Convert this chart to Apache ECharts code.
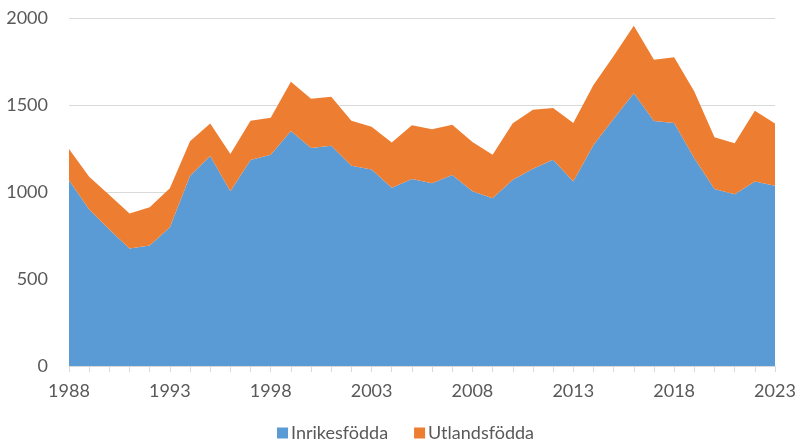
<!DOCTYPE html>
<html>
<head>
<meta charset="utf-8">
<script src="https://cdn.jsdelivr.net/npm/echarts@6/dist/echarts.min.js"></script>
<style>
html,body{margin:0;padding:0;background:#fff;}
#chart{width:799px;height:447px;}
</style>
</head>
<body>
<div id="chart"></div>
<script>
var years = [];
for (var y = 1988; y <= 2023; y++) years.push(String(y));

var inrikes = [1067, 900, 785, 676, 693, 797, 1094, 1207, 1004, 1184, 1214, 1351,
    1253, 1266, 1151, 1130, 1025, 1075, 1050, 1098, 1004, 964, 1071, 1134,
    1186, 1061, 1270, 1421, 1567, 1408, 1397, 1194, 1017, 987, 1061, 1036];
var totalt = [1247, 1088, 983, 877, 912, 1021, 1291, 1393, 1218, 1410, 1427, 1634,
    1536, 1548, 1410, 1375, 1285, 1383, 1360, 1387, 1287, 1214, 1395, 1473,
    1483, 1397, 1615, 1782, 1956, 1760, 1774, 1577, 1314, 1280, 1467, 1393];
var utlands = totalt.map(function(t, i){ return t - inrikes[i]; });

var yTicks = [0, 500, 1000, 1500, 2000];

var font = 'Lato';
var chart = echarts.init(document.getElementById('chart'));
chart.setOption({
    animation: false,
    color: ['#5b9bd5', '#ed7d31'],
    textStyle: { fontFamily: font },
    grid: { left: 69, right: 24, top: 18, bottom: 81 },
    legend: {
        left: 272,
        bottom: 0,
        itemWidth: 11,
        itemHeight: 11,
        itemGap: 26,
        icon: 'rect',
        textStyle: { fontSize: 18, color: '#595959', fontFamily: font, padding: [0, 0, 0, -2] },
        data: ['Inrikesfödda', 'Utlandsfödda']
    },
    xAxis: {
        type: 'category',
        boundaryGap: false,
        data: years,
        axisLine: { lineStyle: { color: '#d9d9d9' } },
        axisTick: { show: true, interval: 0, length: 6, lineStyle: { color: '#d9d9d9' } },
        axisLabel: { interval: 4, color: '#595959', fontSize: 18, margin: 16, fontFamily: font }
    },
    yAxis: {
        type: 'value',
        min: yTicks[0],
        max: yTicks[yTicks.length - 1],
        interval: 500,
        axisLine: { show: false },
        axisTick: { show: false },
        splitLine: { lineStyle: { color: '#d9d9d9' } },
        axisLabel: { color: '#595959', fontSize: 18, margin: 21, fontFamily: font,
            formatter: function(v){ return String(v); } }
    },
    series: [
        {
            name: 'Inrikesfödda',
            type: 'line',
            stack: 'a',
            data: inrikes,
            symbol: 'none',
            lineStyle: { width: 0 },
            areaStyle: { color: '#5b9bd5', opacity: 1 }
        },
        {
            name: 'Utlandsfödda',
            type: 'line',
            stack: 'a',
            data: utlands,
            symbol: 'none',
            lineStyle: { width: 0 },
            areaStyle: { color: '#ed7d31', opacity: 1 }
        }
    ]
});
</script>
</body>
</html>
